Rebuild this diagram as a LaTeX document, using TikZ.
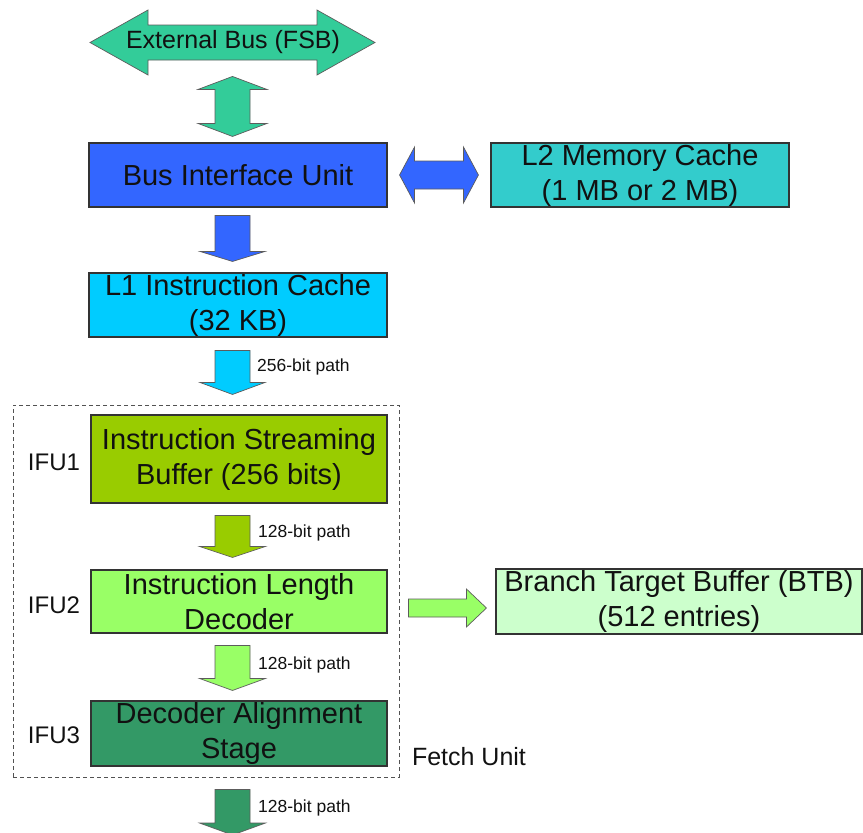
\documentclass[tikz,border=0pt]{standalone}
\usepackage{fontspec}
\setmainfont{Liberation Sans}
\usetikzlibrary{calc}

\definecolor{busgreen}{HTML}{33CC99}
\definecolor{biublue}{HTML}{3366FF}
\definecolor{ltwocyan}{HTML}{33CCCC}
\definecolor{lonecyan}{HTML}{00CCFF}
\definecolor{isbgreen}{HTML}{99CC00}
\definecolor{ildgreen}{HTML}{99FF66}
\definecolor{btbgreen}{HTML}{CCFFCC}
\definecolor{dasgreen}{HTML}{339966}
\definecolor{edge}{HTML}{333333}
\definecolor{inktext}{HTML}{111111}

\newcommand\blkfont{\fontsize{29}{35}\selectfont}
\newcommand\lblfont{\fontsize{24}{28}\selectfont}
\newcommand\pathfont{\fontsize{17.5}{20}\selectfont}

% block arrow pointing down: start, tip, shaft half width, head half width, head length, colour
\newcommand\arrowdown[6]{%
  \filldraw[blockarrow, fill=#6] let \p1=(#1), \p2=(#2) in
    (\x1-#3,\y1) -- (\x1+#3,\y1) -- (\x1+#3,\y2+#5) -- (\x1+#4,\y2+#5)
    -- (\x1,\y2) -- (\x1-#4,\y2+#5) -- (\x1-#3,\y2+#5) -- cycle;}
% block arrow pointing right
\newcommand\arrowright[6]{%
  \filldraw[blockarrow, fill=#6] let \p1=(#1), \p2=(#2) in
    (\x1,\y1-#3) -- (\x1,\y1+#3) -- (\x2-#5,\y1+#3) -- (\x2-#5,\y1+#4)
    -- (\x2,\y1) -- (\x2-#5,\y1-#4) -- (\x2-#5,\y1-#3) -- cycle;}
% horizontal double-headed block arrow
\newcommand\arrowlr[6]{%
  \filldraw[blockarrow, fill=#6] let \p1=(#1), \p2=(#2) in
    (\x1,\y1) -- (\x1+#5,\y1+#4) -- (\x1+#5,\y1+#3) -- (\x2-#5,\y1+#3)
    -- (\x2-#5,\y1+#4) -- (\x2,\y1) -- (\x2-#5,\y1-#4) -- (\x2-#5,\y1-#3)
    -- (\x1+#5,\y1-#3) -- (\x1+#5,\y1-#4) -- cycle;}
% vertical double-headed block arrow
\newcommand\arrowud[6]{%
  \filldraw[blockarrow, fill=#6] let \p1=(#1), \p2=(#2) in
    (\x1,\y1) -- (\x1+#4,\y1-#5) -- (\x1+#3,\y1-#5) -- (\x1+#3,\y2+#5)
    -- (\x1+#4,\y2+#5) -- (\x1,\y2) -- (\x1-#4,\y2+#5) -- (\x1-#3,\y2+#5)
    -- (\x1-#3,\y1-#5) -- (\x1-#4,\y1-#5) -- cycle;}

\begin{document}
\begin{tikzpicture}[x=1pt,y=-1pt,
  unitbox/.style={draw=edge, line width=1.1pt, align=center, font=\blkfont,
    text=inktext, inner sep=0pt},
  blockarrow/.style={draw=edge!80, line width=0.7pt, line join=miter},
  stagelabel/.style={font=\lblfont, text=inktext, inner sep=0pt},
  pathlabel/.style={font=\pathfont, text=inktext, anchor=west, inner sep=0pt}]

\useasboundingbox (0,0) rectangle (863,833);

% fetch unit frame
\node[draw=edge!85, dashed, dash pattern=on 4pt off 3pt, line width=1pt,
  minimum width=386pt, minimum height=372pt, inner sep=0pt] (fetch) at (206,591) {};

% units
\node[unitbox, fill=biublue, minimum width=298pt, minimum height=64pt] (biu) at (238,175) {Bus Interface Unit};
\node[unitbox, fill=ltwocyan, minimum width=298pt, minimum height=64pt] (l2) at (640,175) {L2 Memory Cache\\(1 MB or 2 MB)};
\node[unitbox, fill=lonecyan, minimum width=298pt, minimum height=64pt] (l1) at (238,305) {L1 Instruction Cache\\(32 KB)};
\node[unitbox, fill=isbgreen, minimum width=296pt, minimum height=88pt] (isb) at (239,459) {Instruction Streaming\\Buffer (256 bits)};
\node[unitbox, fill=ildgreen, minimum width=296pt, minimum height=63pt] (ild) at (239,601.5) {Instruction Length\\Decoder};
\node[unitbox, fill=btbgreen, minimum width=366pt, minimum height=65pt] (btb) at (679,601.5) {Branch Target Buffer (BTB)\\(512 entries)};
\node[unitbox, fill=dasgreen, minimum width=296pt, minimum height=65pt] (das) at (239,733.5) {Decoder Alignment\\Stage};

% external bus
\node[inner sep=0pt, font=\fontsize{25}{28}\selectfont, text=inktext] (bus) at (233,42.5) {\phantom{External Bus (FSB)}};
\arrowlr{$(bus.center)+(-143,0)$}{$(bus.center)+(142,0)$}{17.5pt}{32.5pt}{58pt}{busgreen}
\node[inner sep=0pt, font=\fontsize{25}{28}\selectfont, text=inktext] at (bus) {External Bus (FSB)};

% connectors
\arrowud{$(biu.north)+(-5.5,-66)$}{$(biu.north)+(-5.5,-6)$}{17.5pt}{34.5pt}{13pt}{busgreen}
\arrowlr{$(biu.east)+(12,0)$}{$(l2.west)+(-12,0)$}{14pt}{28pt}{15pt}{biublue}
\arrowdown{$(biu.south)+(-5.5,8)$}{$(l1.north)+(-5.5,-11)$}{17.5pt}{32.5pt}{10pt}{biublue}
\arrowdown{$(l1.south)+(-5.5,13)$}{$(isb.north)+(-6.5,-20)$}{17.5pt}{32.5pt}{12pt}{lonecyan}
\arrowdown{$(isb.south)+(-6.5,12)$}{$(ild.north)+(-6.5,-12)$}{17.5pt}{33pt}{11pt}{isbgreen}
\arrowdown{$(ild.south)+(-6.5,12)$}{$(das.north)+(-6.5,-10)$}{17.5pt}{33pt}{12pt}{ildgreen}
\arrowright{$(ild.east)+(21,6.5)$}{$(btb.west)+(-9,6.5)$}{9pt}{19pt}{20pt}{ildgreen}
\coordinate (decode) at (232.5,835);
\arrowdown{$(das.south)+(-6.5,23)$}{decode}{17.5pt}{33pt}{12pt}{dasgreen}

% path widths
\node[pathlabel] (p256) at (257,367) {256-bit path};
\node[pathlabel] (p128a) at (258,533) {128-bit path};
\node[pathlabel] (p128b) at (258,665) {128-bit path};
\node[pathlabel] (p128c) at (258,808) {128-bit path};

% stage labels
\node[stagelabel] (ifu1) at (54,462) {IFU1};
\node[stagelabel] (ifu2) at (54,605) {IFU2};
\node[stagelabel] (ifu3) at (54,735) {IFU3};
\node[stagelabel, font=\fontsize{25}{28}\selectfont] (fetchlbl) at (469,757) {Fetch Unit};

\end{tikzpicture}
\end{document}
